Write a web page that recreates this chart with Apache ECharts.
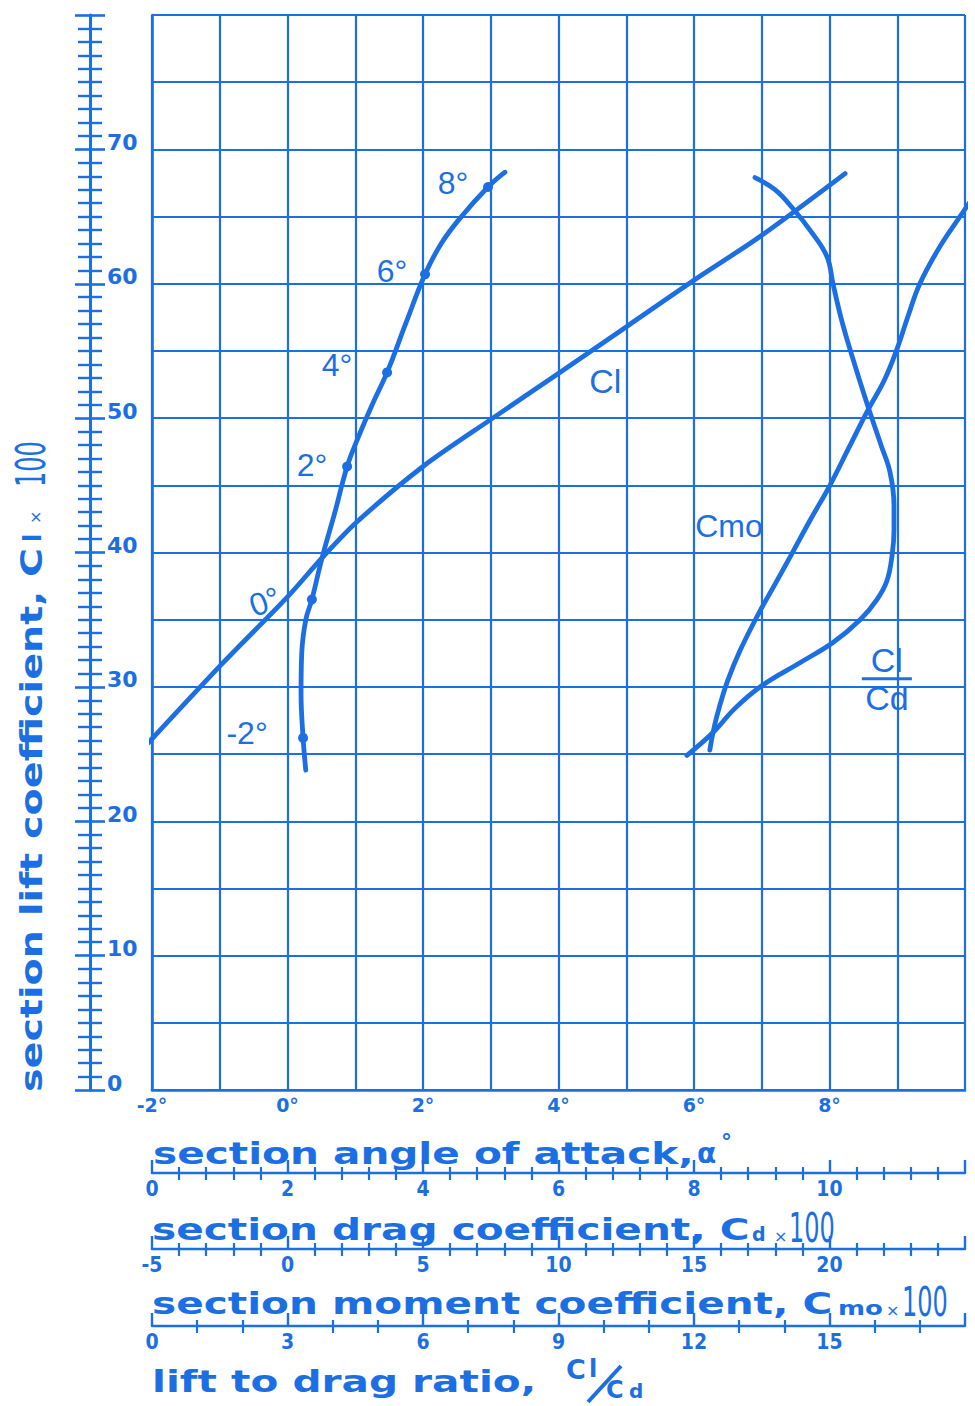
<!DOCTYPE html>
<html>
<head>
<meta charset="utf-8">
<script src="https://cdn.jsdelivr.net/npm/echarts@6.0.0/dist/echarts.min.js"></script>
<style>
html,body{margin:0;padding:0;background:#ffffff;}
#chart{width:975px;height:1406px;}
</style>
</head>
<body>
<div id="chart"></div>
<script>
// ---------------- data ----------------
// section lift coefficient Cl×100 against section angle of attack (deg)
const clAlpha = [-2.06, -0.95, 0.0, 0.51, 1.03, 2.0, 3.03, 4.02, 5.03, 6.01, 6.97, 8.23];
const clLift  = [25.8, 31.8, 36.7, 39.6, 42.3, 46.4, 50.0, 53.4, 56.9, 60.3, 63.5, 68.2];

// drag polar: Cl×100 against section drag coefficient Cd×100
const polarDrag = [2.27, 2.23, 2.20, 2.21, 2.27, 2.36, 2.51, 2.70, 2.88, 3.03, 3.25, 3.47, 3.75, 4.03, 4.27, 4.55, 4.96, 5.21];
const polarLift = [23.8, 26.2, 29.5, 32.5, 35.0, 36.5, 39.6, 43.0, 46.4, 48.4, 51.0, 53.4, 57.1, 60.7, 63.0, 64.9, 67.2, 68.3];

// angle-of-attack marks on the polar
const markDrag  = [2.23, 2.36, 2.88, 3.47, 4.03, 4.96];
const markLift  = [26.2, 36.5, 46.4, 53.4, 60.7, 67.2];
const markAlpha = ['-2°', '0°', '2°', '4°', '6°', '8°'];

// section moment coefficient Cmo×100 against Cl×100
const momentValue = [17.25, 17.99, 18.65, 19.35, 19.91, 20.13, 20.42, 20.76, 21.38, 21.90, 22.23, 22.38, 22.38, 22.31, 22.12, 21.75, 21.13, 20.13, 18.91, 17.51, 16.51, 15.70, 14.74];
const momentLift  = [67.9, 67.0, 65.6, 63.8, 62.0, 60.0, 57.5, 55.1, 51.1, 48.0, 46.0, 43.5, 41.7, 39.8, 37.9, 36.5, 35.0, 33.3, 31.8, 30.1, 28.4, 26.6, 24.9];

// lift to drag ratio Cl/Cd against Cl×100
const ratioValue = [12.35, 12.44, 12.57, 12.75, 13.02, 13.39, 13.77, 14.15, 14.57, 15.01, 15.43, 15.85, 16.21, 16.49, 16.74, 17.00, 17.45, 17.95, 18.33];
const ratioLift  = [25.3, 26.9, 28.6, 30.5, 32.7, 35.2, 37.5, 39.8, 42.4, 45.0, 47.8, 50.6, 52.8, 55.1, 57.6, 60.0, 62.8, 65.3, 67.2];

// tick labels
const liftTicks   = [0, 10, 20, 30, 40, 50, 60, 70];
const alphaTicks  = [-2, 0, 2, 4, 6, 8];
const dragTicks   = [0, 2, 4, 6, 8, 10];
const momentTicks = [-5, 0, 5, 10, 15, 20];
const ratioTicks  = [0, 3, 6, 9, 12, 15];

// ---------------- styling ----------------
const BLUE = '#1c6fe3';
const TFONT = 'bold 31px "DejaVu Sans"';
const zip = (a, b) => a.map((v, i) => [v, b[i]]);
const markLabelOffsets = [[-56, -5], [-45, -14], [-35, -2], [-50, -7], [-33, -3], [-35, -4]];
const markLabelRotate  = [0, 20, 0, 0, 0, 0];

function bottomScale(min, max, interval, minorSplit, offset, ticks) {
  const common = {
    type: 'value', gridIndex: 0, position: 'bottom', offset: offset,
    min: min, max: max, interval: interval,
    splitLine: {show: false}, minorSplitLine: {show: false}
  };
  return [
    Object.assign({}, common, {
      axisLine: {show: true, onZero: false, lineStyle: {color: BLUE, width: 2.4}},
      axisTick: {show: true, inside: true, length: 13, lineStyle: {color: BLUE, width: 2.4}},
      minorTick: {show: true, splitNumber: minorSplit, length: 6, lineStyle: {color: BLUE, width: 2.2}},
      axisLabel: {show: true, margin: 5, color: BLUE, fontSize: 21, fontWeight: 'bold',
        fontFamily: 'DejaVu Sans Condensed',
        formatter: v => ticks.indexOf(v) >= 0 ? String(v) : ''}
    }),
    Object.assign({}, common, {
      axisLine: {show: false, onZero: false},
      axisTick: {show: false},
      minorTick: {show: true, splitNumber: minorSplit, length: 7, lineStyle: {color: BLUE, width: 2.2}},
      axisLabel: {show: false}
    })
  ];
}

const xAxes = [
  {
    type: 'value', gridIndex: 0, position: 'bottom', min: -2, max: 10, interval: 1,
    axisLine: {show: true, onZero: false, lineStyle: {color: BLUE, width: 2.6}},
    axisTick: {show: false},
    splitLine: {show: true, lineStyle: {color: BLUE, width: 2.2}},
    axisLabel: {show: true, margin: 5, color: BLUE, fontSize: 19, fontWeight: 'bold',
      fontFamily: 'DejaVu Sans',
      formatter: v => alphaTicks.indexOf(v) >= 0 ? (v < 0 ? '-' + (-v) : v) + '°' : ''}
  }
].concat(
  bottomScale(0, 12, 2, 5, 83, dragTicks),
  bottomScale(-5, 25, 5, 5, 159, momentTicks),
  bottomScale(0, 18, 3, 3, 236, ratioTicks)
);

const yAxes = [
  {
    type: 'value', gridIndex: 0, position: 'left', min: 0, max: 80, interval: 5,
    axisLine: {show: true, onZero: false, lineStyle: {color: BLUE, width: 2.6}},
    axisTick: {show: false}, axisLabel: {show: false},
    splitLine: {show: true, lineStyle: {color: BLUE, width: 2.2}}
  },
  {
    type: 'value', gridIndex: 0, position: 'left', offset: 62, min: 0, max: 80, interval: 10,
    axisLine: {show: true, onZero: false, lineStyle: {color: BLUE, width: 3}},
    axisTick: {show: true, inside: true, length: 15, lineStyle: {color: BLUE, width: 2.6}},
    minorTick: {show: true, splitNumber: 10, length: 12, lineStyle: {color: BLUE, width: 2.4}},
    splitLine: {show: false},
    axisLabel: {show: true, inside: true, margin: 17, color: BLUE, fontSize: 22, fontWeight: 'bold',
      fontFamily: 'DejaVu Sans', verticalAlign: 'bottom', lineHeight: 14,
      formatter: v => liftTicks.indexOf(v) >= 0 ? String(v) : ''}
  },
  {
    type: 'value', gridIndex: 0, position: 'left', offset: 62, min: 0, max: 80, interval: 10,
    axisLine: {show: false, onZero: false},
    axisTick: {show: true, inside: false, length: 15, lineStyle: {color: BLUE, width: 2.6}},
    minorTick: {show: true, splitNumber: 10, length: 12, lineStyle: {color: BLUE, width: 2.4}},
    splitLine: {show: false}, axisLabel: {show: false}
  }
];

const lineStyle = {color: BLUE, width: 4.8, cap: 'round', join: 'round'};
const noteLabel = {show: true, color: BLUE, fontFamily: 'Liberation Sans', fontSize: 34, position: 'inside'};
const hiddenSymbol = {symbol: 'circle', symbolSize: 1, itemStyle: {color: 'rgba(0,0,0,0)'}};

const series = [
  {
    type: 'line', name: 'Cl', xAxisIndex: 0, yAxisIndex: 0, data: zip(clAlpha, clLift),
    smooth: 0.3, symbol: 'none', clip: false, lineStyle: lineStyle, silent: true,
    markPoint: Object.assign({}, hiddenSymbol, {
      label: Object.assign({}, noteLabel, {formatter: 'Cl'}),
      data: [{coord: [4.69, 52.8]}]})
  },
  {
    type: 'line', name: 'polar', xAxisIndex: 1, yAxisIndex: 0, data: zip(polarDrag, polarLift),
    smooth: 0.4, symbol: 'none', clip: false, lineStyle: lineStyle, silent: true
  },
  {
    type: 'scatter', name: 'alpha marks', xAxisIndex: 1, yAxisIndex: 0, clip: false, silent: true,
    symbol: 'circle', symbolSize: 10, itemStyle: {color: BLUE, opacity: 1},
    data: markDrag.map((d, i) => ({
      value: [d, markLift[i]],
      label: {show: true, formatter: markAlpha[i], position: 'inside',
        offset: markLabelOffsets[i], rotate: markLabelRotate[i], opacity: 1,
        color: BLUE, fontFamily: 'Liberation Sans', fontSize: 32}
    }))
  },
  {
    type: 'line', name: 'Cmo', xAxisIndex: 3, yAxisIndex: 0, data: zip(momentValue, momentLift),
    smooth: 0.4, symbol: 'none', clip: false, lineStyle: lineStyle, silent: true,
    markPoint: Object.assign({}, hiddenSymbol, {
      label: Object.assign({}, noteLabel, {formatter: 'Cmo', fontSize: 32}),
      data: [{coord: [16.29, 42.0]}]})
  },
  {
    type: 'line', name: 'Cl/Cd', xAxisIndex: 5, yAxisIndex: 0, data: zip(ratioValue, ratioLift),
    smooth: 0.4, symbol: 'none', clip: false, lineStyle: lineStyle, silent: true,
    markPoint: Object.assign({}, hiddenSymbol, {
      label: Object.assign({}, noteLabel, {
        formatter: '{n|Cl}\n{bar|}\n{d|Cd}',
        rich: {
          n: {fontSize: 34, lineHeight: 32, color: BLUE, fontFamily: 'Liberation Sans'},
          bar: {width: 50, height: 3, lineHeight: 6, backgroundColor: BLUE},
          d: {fontSize: 34, lineHeight: 32, color: BLUE, fontFamily: 'Liberation Sans'}
        }}),
      data: [{coord: [16.27, 30.6]}]})
  }
];

function txt(x, y, text, font, extra) {
  return Object.assign({type: 'text', x: x, y: y, silent: true,
    style: {text: text, font: font, fill: BLUE, textVerticalAlign: 'middle', verticalAlign: 'middle'}}, extra || {});
}

const graphics = [
  // section angle of attack
  txt(153, 1153, 'section angle of attack,', TFONT, {scaleX: 1.31}),
  txt(697, 1153, 'α', 'bold 28px "DejaVu Sans"'),
  txt(721, 1141, '°', 'bold 22px "DejaVu Sans"'),
  // section drag coefficient
  txt(152, 1229, 'section drag coefficient, C', TFONT, {scaleX: 1.31}),
  txt(752, 1234, 'd', 'bold 19px "DejaVu Sans"'),
  txt(774, 1236, '×', '16px "DejaVu Sans"'),
  txt(789, 1228, '100', '40px "DejaVu Sans"', {scaleX: 0.6}),
  // section moment coefficient
  txt(152, 1303, 'section moment coefficient, C', TFONT, {scaleX: 1.31}),
  txt(838, 1308, 'mo', 'bold 20px "DejaVu Sans"', {scaleX: 1.3}),
  txt(886, 1310, '×', '16px "DejaVu Sans"'),
  txt(902, 1302, '100', '40px "DejaVu Sans"', {scaleX: 0.6}),
  // lift to drag ratio
  txt(152, 1381, 'lift to drag ratio,', TFONT, {scaleX: 1.31}),
  txt(566, 1369, 'C', 'bold 27px "DejaVu Sans"'),
  txt(589, 1369, 'l', 'bold 24px "DejaVu Sans"'),
  {type: 'line', silent: true, shape: {x1: 588, y1: 1402, x2: 621, y2: 1366},
    style: {stroke: BLUE, lineWidth: 4}},
  txt(606, 1390, 'C', 'bold 24px "DejaVu Sans"'),
  txt(629, 1391, 'd', 'bold 20px "DejaVu Sans"'),
  // vertical title
  {type: 'group', x: 31, y: 1092, rotation: Math.PI / 2, silent: true, children: [
    txt(0, 0, 'section lift coefficient, C', TFONT, {scaleX: 1.28}),
    txt(550, 2, 'l', 'bold 24px "DejaVu Sans"'),
    txt(568, 4, '×', '16px "DejaVu Sans"'),
    txt(605, 0, '100', '40px "DejaVu Sans"', {scaleX: 0.6})
  ]}
];

const chart = echarts.init(document.getElementById('chart'), null, {renderer: 'svg', width: 975, height: 1406});
chart.setOption({
  backgroundColor: '#ffffff',
  animation: false,
  grid: {left: 152, right: 10, top: 15, bottom: 316, containLabel: false},
  xAxis: xAxes,
  yAxis: yAxes,
  series: series,
  graphic: graphics
});
</script>
</body>
</html>
